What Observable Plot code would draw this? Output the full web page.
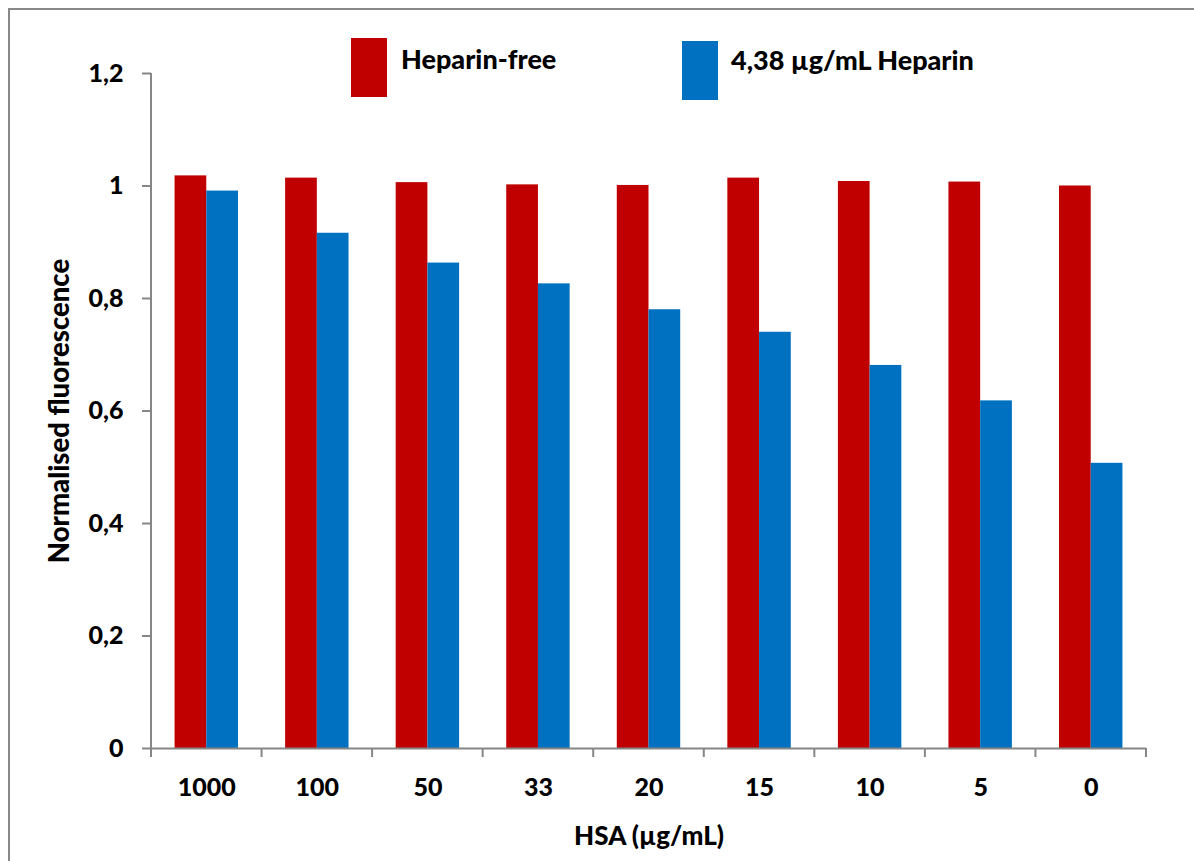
<!DOCTYPE html>
<html><head><meta charset="utf-8">
<script src="https://cdn.jsdelivr.net/npm/d3@7"></script>
<script src="https://cdn.jsdelivr.net/npm/@observablehq/plot@0.6"></script>
<style>
html,body{margin:0;padding:0;background:#fff;}
#wrap{position:relative;width:1194px;height:861px;overflow:hidden;font-family:Lato, sans-serif;font-weight:900;color:#000;}
#border{position:absolute;left:8px;top:8px;width:1300px;height:1000px;border-left:2px solid #888;border-top:2px solid #888;}
#chart{position:absolute;left:0;top:0;}
.leg-sw{position:absolute;width:36px;height:59px;}
.leg-tx{position:absolute;font-size:27px;line-height:1;white-space:nowrap;}
</style></head>
<body><div id="wrap"><div id="border"></div><div id="chart"></div><div id="legend"></div></div>
<script>
const categories = ["1000", "100", "50", "33", "20", "15", "10", "5", "0"];
const seriesNames = ["Heparin-free", "4,38 µg/mL Heparin"];
const heparinFree = [1.018, 1.014, 1.006, 1.002, 1.001, 1.014, 1.008, 1.007, 1.000];
const heparin438 = [0.991, 0.916, 0.863, 0.826, 0.780, 0.740, 0.681, 0.618, 0.507];
const seriesColors = ["#C00000", "#0070C0"];
const yTicks = [0, 0.2, 0.4, 0.6, 0.8, 1, 1.2];
const xLabel = "HSA (µg/mL)";
const yLabel = "Normalised fluorescence";

const rows = categories.flatMap((c, i) => [
  {cat: c, series: seriesNames[0], value: heparinFree[i]},
  {cat: c, series: seriesNames[1], value: heparin438[i]}
]);

const axisColor = "#868686";

const plot = Plot.plot({
  width: 1194, height: 861,
  marginLeft: 151, marginRight: 48, marginTop: 73, marginBottom: 113,
  style: {fontFamily: "Lato, sans-serif", fontWeight: "900", fontSize: "25px", color: "#000", background: "transparent", overflow: "visible"},
  fx: {domain: categories, padding: 0, round: false},
  x: {domain: seriesNames, paddingInner: 0, paddingOuter: 0.743, round: false, axis: null},
  y: {domain: [0, 1.2]},
  color: {domain: seriesNames, range: seriesColors},
  marks: [
    Plot.barY(rows, {fx: "cat", x: "series", y: "value", fill: "series"}),
    Plot.ruleY([0], {stroke: axisColor, strokeWidth: 2}),
    Plot.axisY({ticks: yTicks, tickFormat: d => String(d).replace(".", ","), tickSize: 9, tickPadding: 19,
      stroke: axisColor, fill: "#000", strokeWidth: 2, fontSize: 25, label: null}),
    Plot.axisY({ticks: [], tickSize: 0, fill: "#000", fontSize: 27.5,
      label: yLabel, labelAnchor: "center", labelArrow: "none", labelOffset: 102}),
    Plot.axisFx({anchor: "bottom", tickSize: 0, tickPadding: 30, fill: "#000", fontSize: 25, label: null}),
    Plot.axisFx({anchor: "bottom", ticks: [], tickSize: 0, fill: "#000", fontSize: 26,
      label: xLabel, labelAnchor: "center", labelArrow: "none", labelOffset: 96})
  ]
});

// y axis line and boundary ticks between categories, positioned with the plot's own scales
const fx = plot.scale("fx"), ys = plot.scale("y");
const y0 = ys.apply(0), yTop = ys.apply(yTicks[yTicks.length - 1]);
const edges = categories.map(c => fx.apply(c)).concat([fx.apply(categories[categories.length - 1]) + fx.bandwidth]);
const g = d3.select(plot).append("g").attr("stroke", axisColor).attr("stroke-width", 2);
g.selectAll("line.edge").data(edges).join("line").attr("class", "edge")
  .attr("x1", d => d).attr("x2", d => d).attr("y1", y0).attr("y2", y0 + 9);
g.append("line").attr("x1", edges[0]).attr("x2", edges[0]).attr("y1", y0 + 1).attr("y2", yTop);

document.getElementById("chart").appendChild(plot);

// legend
const legendPos = [{sx: 351, sy: 38, tx: 401, ty: 45}, {sx: 682, sy: 41, tx: 731, ty: 46}];
const leg = document.getElementById("legend");
seriesNames.forEach((name, i) => {
  const sw = document.createElement("div");
  sw.className = "leg-sw";
  sw.style.left = legendPos[i].sx + "px"; sw.style.top = legendPos[i].sy + "px";
  sw.style.background = seriesColors[i];
  leg.appendChild(sw);
  const tx = document.createElement("div");
  tx.className = "leg-tx";
  tx.style.left = legendPos[i].tx + "px"; tx.style.top = legendPos[i].ty + "px";
  tx.textContent = name;
  leg.appendChild(tx);
});
</script>
</body></html>
